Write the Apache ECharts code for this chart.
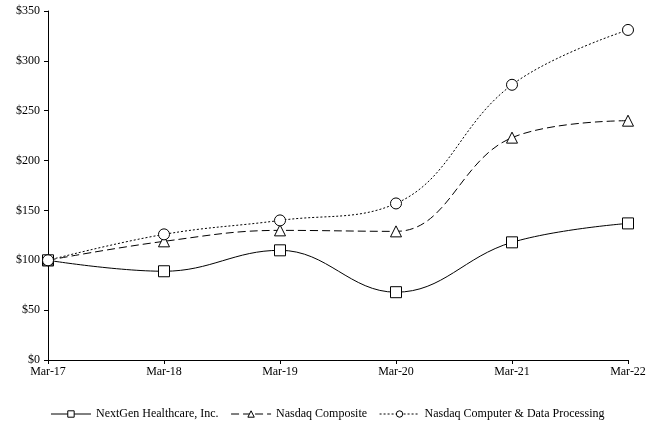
<!DOCTYPE html>
<html><head><meta charset="utf-8">
<script src="https://cdn.jsdelivr.net/npm/echarts@6/dist/echarts.min.js"></script>
<style>html,body{margin:0;padding:0;background:#fff}#c{width:655px;height:435px}</style>
</head><body><div id="c"></div>
<script>
var categories = ['Mar-17','Mar-18','Mar-19','Mar-20','Mar-21','Mar-22'];
var nextgen = [100, 89, 110, 68, 118, 137];
var nasdaqComposite = [100, 119, 130, 129, 223, 240];
var nasdaqComputer = [100, 126, 140, 157, 276, 331];
var yTicks = [0, 50, 100, 150, 200, 250, 300, 350];

var font = 'Liberation Serif';
var chart = echarts.init(document.getElementById('c'));
function ser(name, data, symbol, size, type) {
  return {
    name: name, type: 'line', data: data, smooth: 0.4,
    symbol: symbol, symbolSize: size, showAllSymbol: true,
    lineStyle: {color: '#000', width: 1, type: type},
    itemStyle: {color: '#fff', borderColor: '#000', borderWidth: 1},
    emphasis: {disabled: true}
  };
}
chart.setOption({
  animation: false,
  textStyle: {fontFamily: font},
  grid: {left: 48, right: 27, top: 11, bottom: 75},
  legend: {
    bottom: 10, left: 'center', itemGap: 12, itemWidth: 40, itemHeight: 8,
    lineStyle: {width: 1},
    itemStyle: {borderWidth: 1},
    textStyle: {fontFamily: font, fontSize: 12, color: '#000'},
    data: ['NextGen Healthcare, Inc.', 'Nasdaq Composite', 'Nasdaq Computer & Data Processing']
  },
  xAxis: {
    type: 'category', data: categories, boundaryGap: false,
    axisLine: {lineStyle: {color: '#000', width: 1}},
    axisTick: {show: true, length: 4, lineStyle: {color: '#000'}},
    axisLabel: {fontFamily: font, fontSize: 12, color: '#000', margin: 6}
  },
  yAxis: {
    type: 'value', min: yTicks[0], max: yTicks[yTicks.length-1], interval: 50,
    splitLine: {show: false},
    axisLine: {show: true, lineStyle: {color: '#000', width: 1}},
    axisTick: {show: true, length: 4, lineStyle: {color: '#000'}},
    axisLabel: {fontFamily: font, fontSize: 12, color: '#000', margin: 8, formatter: function(v){return '$' + v;}}
  },
  series: [
    ser('NextGen Healthcare, Inc.', nextgen, 'rect', 11, 'solid'),
    ser('Nasdaq Composite', nasdaqComposite, 'triangle', 11, [8, 4]),
    ser('Nasdaq Computer & Data Processing', nasdaqComputer, 'circle', 11, [2, 2])
  ]
});
</script></body></html>
